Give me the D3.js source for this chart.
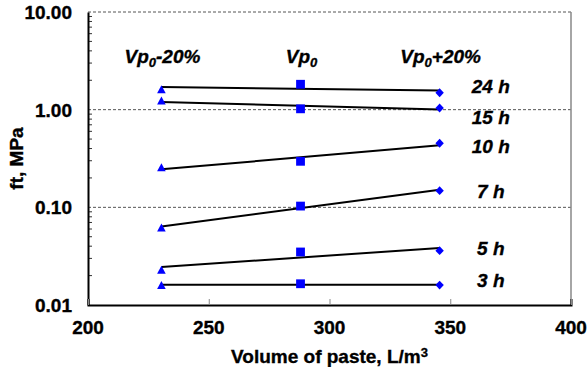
<!DOCTYPE html>
<html>
<head>
<meta charset="utf-8">
<script src="https://cdn.jsdelivr.net/npm/d3@7"></script>
<style>
  body { margin: 0; background: #fff; }
  text { font-family: "Liberation Sans", Arial, sans-serif; font-weight: bold; stroke: #000; stroke-width: 0.35px; }
</style>
</head>
<body>
<div id="chart"></div>
<script>
// paste volumes (L/m3) for Vp0-20%, Vp0, Vp0+20%
const volumes = [230.4, 288, 345.6];
const ages = ["3 h", "5 h", "7 h", "10 h", "15 h", "24 h"];
// ft (MPa) per age
const ftMinus20 = [0.016, 0.0229, 0.062, 0.257, 1.24, 1.62];
const ftVp0 = [0.0165, 0.0349, 0.103, 0.296, 1.02, 1.82];
const ftPlus20 = [0.016, 0.036, 0.148, 0.453, 1.04, 1.49];
// where the age labels sit (MPa)
const ageLabelAt = [0.0153, 0.0325, 0.1247, 0.357, 0.708, 1.49];
const vpSuffix = ["-20%", "", "+20%"];
const yTicks = [0.01, 0.1, 1, 10];
const xTicks = [200, 250, 300, 350, 400];

const margin = {top: 12, right: 16, bottom: 62, left: 88},
    width = 587 - margin.left - margin.right,
    height = 367 - margin.top - margin.bottom;

const svg = d3.select("#chart").append("svg")
    .attr("width", 587)
    .attr("height", 367)
    .append("g")
    .attr("transform", `translate(${margin.left},${margin.top})`);

const x = d3.scaleLinear().domain([200, 400]).range([0, width]);
const y = d3.scaleLog().domain([0.01, 10]).range([height, 0]);

// dashed gridlines
svg.selectAll(".grid")
    .data(yTicks.slice(1))
    .enter().append("line")
    .attr("x1", 0).attr("x2", width)
    .attr("y1", d => y(d)).attr("y2", d => y(d))
    .attr("stroke", "#555")
    .attr("stroke-width", 1)
    .attr("stroke-dasharray", "3,2");

// right border
svg.append("line")
    .attr("x1", width).attr("x2", width)
    .attr("y1", 0).attr("y2", height)
    .attr("stroke", "#888").attr("stroke-width", 1.5);

// minor ticks on the log axis
const minor = [];
[0.01, 0.1, 1].forEach(dec => { for (let k = 2; k <= 9; k++) minor.push(dec * k); });
svg.selectAll(".minor")
    .data(minor)
    .enter().append("line")
    .attr("x1", 0).attr("x2", 4)
    .attr("y1", d => y(d)).attr("y2", d => y(d))
    .attr("stroke", "#333").attr("stroke-width", 1);

// Y axis
const yAxis = svg.append("g")
    .call(d3.axisLeft(y).tickValues(yTicks).tickFormat(d3.format(".2f")).tickSize(0).tickPadding(16));
yAxis.select(".domain").attr("stroke", "#000").attr("stroke-width", 2);
yAxis.selectAll("text").attr("font-size", 19).attr("dy", "0.35em").attr("fill", "#000");

// X axis
const xAxis = svg.append("g")
    .attr("transform", `translate(0,${height})`)
    .call(d3.axisTop(x).tickValues(xTicks).tickSize(6).tickFormat(""));
xAxis.select(".domain").attr("stroke", "#000").attr("stroke-width", 2);
xAxis.selectAll(".tick line").attr("stroke", "#888");
svg.selectAll(".xlab")
    .data(xTicks)
    .enter().append("text")
    .attr("x", d => x(d))
    .attr("y", height + 29)
    .attr("text-anchor", "middle")
    .attr("font-size", 19)
    .text(d => d);

// axis titles
const xt = svg.append("text")
    .attr("x", width / 2)
    .attr("y", height + 58)
    .attr("text-anchor", "middle")
    .attr("font-size", 19);
xt.append("tspan").text("Volume of paste, L/m");
xt.append("tspan").attr("font-size", 13).attr("dy", -6).text("3");
svg.append("text")
    .attr("transform", `translate(${23 - margin.left},${height / 2}) rotate(-90)`)
    .attr("text-anchor", "middle")
    .attr("font-size", 19)
    .text("ft, MPa");

// exponential trendlines (straight on log scale), least squares in log space
const series = ages.map((a, i) => ({
    age: a,
    vals: [ftMinus20[i], ftVp0[i], ftPlus20[i]],
    labelAt: ageLabelAt[i]
}));
series.forEach(s => {
    const lx = volumes, ly = s.vals.map(Math.log10);
    const mx = d3.mean(lx), my = d3.mean(ly);
    const b = d3.sum(lx, (v, j) => (v - mx) * (ly[j] - my)) / d3.sum(lx, v => (v - mx) ** 2);
    s.fit = [volumes[0], volumes[2]].map(v => [v, Math.pow(10, my + b * (v - mx))]);
});
svg.selectAll(".trend")
    .data(series)
    .enter().append("line")
    .attr("x1", d => x(d.fit[0][0])).attr("y1", d => y(d.fit[0][1]))
    .attr("x2", d => x(d.fit[1][0])).attr("y2", d => y(d.fit[1][1]))
    .attr("stroke", "#000").attr("stroke-width", 2);

// markers
const blue = "#0000ff";
const shapes = [
    "M0,-4L4.3,4L-4.3,4Z",
    "M-4.4,-4.4H4.4V4.4H-4.4Z",
    "M0,-4.4L4.2,0L0,4.4L-4.2,0Z"
];
volumes.forEach((v, j) => {
    svg.selectAll(".m" + j)
        .data(series)
        .enter().append("path")
        .attr("d", shapes[j])
        .attr("transform", d => `translate(${x(v)},${y(d.vals[j])})`)
        .attr("fill", blue);
});

// Vp0 headers
volumes.forEach((v, j) => {
    const t = svg.append("text")
        .attr("x", x(v) + 1)
        .attr("y", y(3.0))
        .attr("text-anchor", "middle")
        .attr("font-size", 19)
        .attr("font-style", "italic");
    t.append("tspan").text("Vp");
    t.append("tspan").attr("font-size", 13).attr("dy", 4).text("0");
    if (vpSuffix[j]) t.append("tspan").attr("dy", -4).text(vpSuffix[j]);
});

// age labels
svg.selectAll(".agelab")
    .data(series)
    .enter().append("text")
    .attr("x", x(366.8))
    .attr("y", d => y(d.labelAt))
    .attr("text-anchor", "middle")
    .attr("font-size", 19)
    .attr("font-style", "italic")
    .text(d => d.age);
</script>
</body>
</html>
